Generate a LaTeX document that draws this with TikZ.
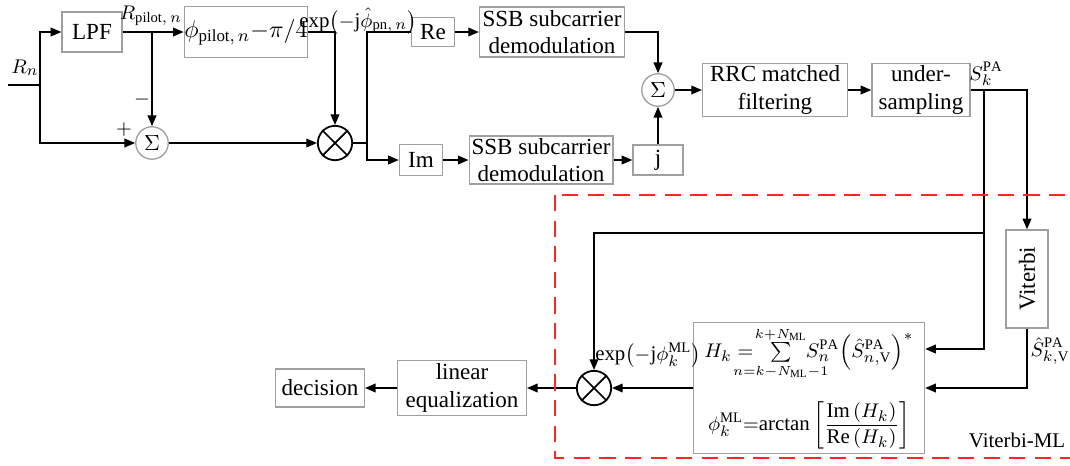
\documentclass[tikz,border=0pt]{standalone}
\usepackage{amsmath}
\usepackage{fontspec}
\setmainfont{Liberation Serif}
\usepackage{tikz}
\usetikzlibrary{arrows.meta,positioning}
\newcommand{\limtxt}[1]{\makebox[0pt]{\fontsize{6}{7}\selectfont$#1$}}

\begin{document}
\begin{tikzpicture}[
    x=0.016cm, y=-0.016cm, line width=0.6pt,
    block/.style={
      draw=gray!75, fill=white, align=center, inner sep=1pt,
      font=\fontsize{10.5}{12.5}\selectfont
    },
    sumnode/.style={circle, draw=gray!75, minimum size=0.52cm, inner sep=0pt},
    mixer/.style={circle, draw, line width=0.8pt, minimum size=0.55cm, inner sep=0pt},
    lbl/.style={inner sep=0pt, font=\fontsize{9.5}{11}\selectfont},
    >={Triangle[length=1.7mm,width=1.4mm]}
  ]
  \useasboundingbox (0,0) rectangle (1070,465);

  % Upper branch: pilot phase estimation
  \node[block, minimum width=1.95cm, minimum height=0.82cm, inner sep=0pt, font=\fontsize{11}{13}\selectfont] (phase) at (246,32)
    {$\phi_{\mathrm{pilot},\,n}{-}\pi/4$};
  \node[block, minimum width=0.96cm, minimum height=0.64cm] (lpf) at (92,32) {LPF};
  \node[sumnode] (sum1) at (152,143) {$\Sigma$};
  \node[mixer]   (mult1) at (335,143) {};

  % I/Q demodulation
  \node[block, minimum width=0.69cm, minimum height=0.47cm] (re) at (433,32) {Re};
  \node[block, minimum width=0.69cm, minimum height=0.5cm]  (im) at (421,160) {Im};
  \node[block, minimum width=2.32cm, minimum height=0.8cm]  (ssbre) at (552,32) {SSB subcarrier\\demodulation};
  \node[block, minimum width=2.3cm, minimum height=0.77cm]  (ssbim) at (541,160) {SSB subcarrier\\demodulation};
  \node[block, minimum width=0.8cm, minimum height=0.48cm]  (jbox) at (658,160) {j};
  \node[sumnode] (sum2) at (658,90) {$\Sigma$};
  \node[block, minimum width=2.32cm, minimum height=0.8cm]  (rrc) at (775,90) {RRC matched\\filtering};
  \node[block, minimum width=1.57cm, minimum height=0.85cm] (under) at (921,90) {under-\\sampling};

  % Viterbi-ML part
  \node[block, minimum width=0.67cm, minimum height=1.57cm] (viterbi) at (1027,279) {\rotatebox{90}{Viterbi}};
  \node[block, minimum width=3.7cm, minimum height=2.1cm, font=\fontsize{9.5}{11}\selectfont] (mlest) at (809,388)
    {$H_k=\hspace{5pt}\sum\limits_{\limtxt{n{=}k{-}N_{\mathrm{ML}}{-}1}}^{\limtxt{k{+}N_{\mathrm{ML}}}}\hspace{5pt} S_n^{\mathrm{PA}}\Bigl(\hat{S}_{n,\mathrm{V}}^{\mathrm{PA}}\Bigr)^{*}$\\[9pt]
     $\phi_k^{\mathrm{ML}}{=}\mathrm{arctan}\left[\dfrac{\mathrm{Im}\left(H_k\right)}{\mathrm{Re}\left(H_k\right)}\right]$};
  \node[mixer] (mult2) at (594,388) {};
  \node[block, minimum width=2.06cm, minimum height=0.88cm] (eq) at (462,388) {linear\\equalization};
  \node[block, minimum width=1.42cm, minimum height=0.61cm] (decision) at (320,388) {decision};

  \foreach \m in {mult1,mult2} {
    \draw[line width=0.8pt] (\m.45) -- (\m.225) (\m.135) -- (\m.315);
  }

  % Labels
  \node[lbl] (rnlab)    at (25,68)   {$R_n$};
  \node[lbl] (pilotlab) at (151,16)  {$R_{\mathrm{pilot},\,n}$};
  \node[lbl] (minus)    at (142,100) {$-$};
  \node[lbl] (plus)     at (124,130) {$+$};
  \node[lbl] (explab)   at (358,21)  {$\exp\bigl(-\mathrm{j}\hat{\phi}_{\mathrm{pn},\,n}\bigr)$};
  \node[lbl] (sklab)    at (986,74)  {$S_k^{\mathrm{PA}}$};
  \node[lbl] (svlab)    at (1050,351) {$\hat{S}_{k,\mathrm{V}}^{\mathrm{PA}}$};
  \node[lbl] (mllab)    at (648,355) {$\exp\bigl(-\mathrm{j}\phi_k^{\mathrm{ML}}\bigr)$};
  \node[lbl] (vmllab)   at (1017,440) {Viterbi-ML};

  % Connectors
  \coordinate (in) at (8,85);
  \coordinate (split) at (40,85);
  \coordinate (tap) at (367,143);
  \coordinate (sk) at (984,90);
  \coordinate (fb) at (984,233);
  \coordinate (hin) at (mlest.east |- 0,349);

  \draw (in) -- (split);
  \draw[->] (split) |- (lpf);
  \draw[->] (split) |- (sum1);
  \draw[->] (lpf) -- (phase);
  \draw[->] (sum1 |- lpf) -- (sum1);
  \draw[->] (sum1) -- (mult1);
  \draw[->] (phase) -| (mult1);
  \draw (mult1) -- (tap);
  \draw (tap) |- (re);
  \draw[->] (tap) |- (im);
  \draw[->] (re) -- (ssbre);
  \draw[->] (im) -- (ssbim);
  \draw[->] (ssbim) -- (jbox);
  \draw[->] (jbox) -- (sum2);
  \draw[->] (ssbre) -| (sum2);
  \draw[->] (sum2) -- (rrc);
  \draw[->] (rrc) -- (under);
  \draw[->] (under) -| (viterbi);
  \draw[->] (sk) |- (hin);
  \draw[->] (fb) -| (mult2);
  \draw[->] (viterbi) |- (mlest);
  \draw[->] (mlest) -- (mult2);
  \draw[->] (mult2) -- (eq);
  \draw[->] (eq) -- (decision);

  % Viterbi-ML frame
  \draw[red!85, line width=1.3pt, dash pattern=on 2.6mm off 1.5mm] (555,195) rectangle (1085,458);
\end{tikzpicture}
\end{document}
